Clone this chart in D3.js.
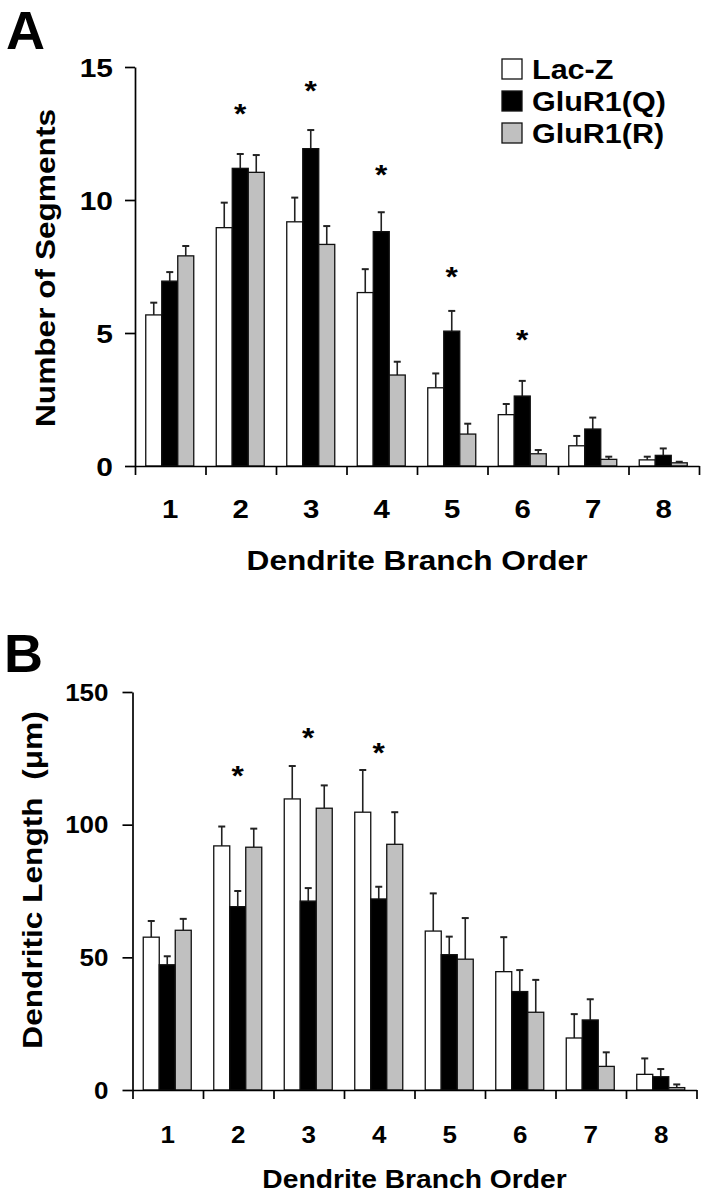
<!DOCTYPE html>
<html>
<head>
<meta charset="utf-8">
<script src="https://cdn.jsdelivr.net/npm/d3@7"></script>
<style>
    body { margin: 0; background: #fff; }
    svg { display: block; font-family: "Liberation Sans", Arial, sans-serif; font-weight: bold; }
    text { white-space: pre; }
</style>
</head>
<body>
<div id="figure"></div>
<script>
const branchOrders = ["1", "2", "3", "4", "5", "6", "7", "8"];
const groupNames = ["Lac-Z", "GluR1(Q)", "GluR1(R)"];
const groupFills = ["#ffffff", "#000000", "#c0c0c0"];

// A: number of segments
const segTicks = [0, 5, 10, 15];
const segLacZ = [5.68, 8.96, 9.18, 6.52, 2.94, 1.93, 0.76, 0.23];
const segLacZErr = [0.46, 0.94, 0.91, 0.88, 0.54, 0.40, 0.37, 0.12];
const segGluQ = [6.95, 11.19, 11.93, 8.81, 5.07, 2.63, 1.39, 0.40];
const segGluQErr = [0.34, 0.54, 0.70, 0.73, 0.76, 0.57, 0.43, 0.26];
const segGluR = [7.90, 11.04, 8.33, 3.42, 1.20, 0.46, 0.25, 0.12];
const segGluRErr = [0.37, 0.65, 0.69, 0.50, 0.39, 0.14, 0.10, 0.04];
const segStars = [null, 13.5, 14.36, 11.22, 7.37, 5.0, null, null];

// B: dendritic length
const lenTicks = [0, 50, 100, 150];
const lenLacZ = [57.6, 92.0, 109.7, 104.7, 59.9, 44.6, 19.6, 5.9];
const lenLacZErr = [6.1, 7.3, 12.4, 15.9, 14.2, 13.0, 9.0, 6.0];
const lenGluQ = [47.2, 69.1, 71.2, 72.0, 51.0, 37.1, 26.4, 5.0];
const lenGluQErr = [3.2, 5.9, 4.9, 4.6, 6.8, 8.1, 7.8, 2.9];
const lenGluR = [60.2, 91.5, 106.2, 92.6, 49.3, 29.3, 8.9, 0.9];
const lenGluRErr = [4.3, 7.0, 8.6, 12.1, 15.5, 12.2, 5.3, 1.2];
const lenStars = [null, 120.8, 135.3, 129.7, null, null, null, null];

// the chart font runs wider than Arial
const stretch = 1.13;

const svg = d3.select("#figure").append("svg")
    .attr("width", 706)
    .attr("height", 1199);

function wideText(parent, x, y, label, size, anchor, rotate) {
    const turn = rotate ? " rotate(-90)" : "";
    return parent.append("text")
        .attr("transform", `translate(${x},${y})${turn} scale(${stretch},1)`)
        .attr("text-anchor", anchor || "middle")
        .attr("font-size", size)
        .attr("fill", "#000")
        .text(label);
}

function drawPanel(p) {
    const g = svg.append("g");

    g.append("text")
        .attr("x", p.letterX)
        .attr("y", p.letterY)
        .attr("font-size", 54)
        .text(p.letter);

    const x = d3.scaleBand().domain(branchOrders).range([p.left, p.right]);
    const y = d3.scaleLinear().domain([0, p.yMax]).range([p.bottom, p.top]);
    const inner = d3.scaleBand().domain(groupNames).range([0, 48]);
    const shift = (x.bandwidth() - 48) / 2 - 0.5;
    const bw = inner.bandwidth();

    const rows = [];
    groupNames.forEach((name, i) => {
        branchOrders.forEach((order, j) => {
            rows.push({
                name: name,
                fill: groupFills[i],
                order: order,
                mean: p.means[i][j],
                err: p.errors[i][j]
            });
        });
    });

    const barX = d => x(d.order) + shift + inner(d.name);

    // error bars
    const errs = g.append("g")
        .attr("stroke", "#222")
        .attr("stroke-width", 1.6);

    errs.selectAll("line.stem")
        .data(rows)
        .join("line")
        .attr("class", "stem")
        .attr("x1", d => barX(d) + bw / 2)
        .attr("x2", d => barX(d) + bw / 2)
        .attr("y1", d => y(d.mean))
        .attr("y2", d => y(d.mean + d.err));

    errs.selectAll("line.cap")
        .data(rows)
        .join("line")
        .attr("class", "cap")
        .attr("x1", d => barX(d) + bw / 2 - 3.5)
        .attr("x2", d => barX(d) + bw / 2 + 3.5)
        .attr("y1", d => y(d.mean + d.err))
        .attr("y2", d => y(d.mean + d.err))
        .attr("stroke-width", 2);

    g.append("g")
        .selectAll("rect")
        .data(rows)
        .join("rect")
        .attr("x", barX)
        .attr("width", bw)
        .attr("y", d => y(d.mean))
        .attr("height", d => y(0) - y(d.mean))
        .attr("fill", d => d.fill)
        .attr("stroke", "#111")
        .attr("stroke-width", 1.3);

    // stars over the GluR1(Q) bars
    branchOrders.forEach((order, j) => {
        if (p.stars[j] === null) return;
        wideText(g, x(order) + shift + inner("GluR1(Q)") + bw / 2,
            y(p.stars[j]) + 16, "*", 28);
    });

    // y axis
    const yAxis = g.append("g")
        .attr("transform", `translate(${p.left},0)`)
        .call(d3.axisLeft(y).tickValues(p.yTicks).tickSize(10).tickSizeOuter(0))
        .attr("font-size", null)
        .attr("font-family", null);

    yAxis.selectAll("path, line")
        .attr("stroke", "#000")
        .attr("stroke-width", 1.7);

    yAxis.selectAll(".tick text")
        .attr("x", 0)
        .attr("dy", "0.36em")
        .attr("font-size", p.yTickSize)
        .attr("fill", "#000")
        .attr("transform", `translate(${-p.yTickGap},0) scale(${stretch},1)`);

    // x axis: marks at the bin edges, labels at the bin centres
    const edges = d3.scaleLinear().domain([0, branchOrders.length]).range([p.left, p.right]);

    const xEdges = g.append("g")
        .attr("transform", `translate(0,${p.bottom})`)
        .call(d3.axisBottom(edges)
            .tickValues(d3.range(branchOrders.length + 1))
            .tickSize(9)
            .tickSizeOuter(0)
            .tickFormat(""));

    xEdges.selectAll("path, line")
        .attr("stroke", "#000")
        .attr("stroke-width", 1.7);

    const xLabels = g.append("g")
        .attr("transform", `translate(0,${p.bottom})`)
        .call(d3.axisBottom(x).tickSize(0))
        .attr("font-size", null)
        .attr("font-family", null);

    xLabels.select(".domain").remove();

    xLabels.selectAll(".tick text")
        .attr("y", 0)
        .attr("dy", 0)
        .attr("font-size", p.xTickSize)
        .attr("fill", "#000")
        .attr("transform", `translate(0,${p.xTickDrop}) scale(${stretch},1)`);

    // titles
    wideText(g, (p.left + p.right) / 2, p.xTitleY, "Dendrite Branch Order", p.xTitleSize);
    wideText(g, p.yTitleX, p.yTitleY, p.yTitle, p.yTitleSize, "middle", true);

    return g;
}

const panelA = drawPanel({
    letter: "A", letterX: 6, letterY: 49,
    left: 135, right: 699, top: 67, bottom: 466,
    yMax: 15, yTicks: segTicks,
    means: [segLacZ, segGluQ, segGluR],
    errors: [segLacZErr, segGluQErr, segGluRErr],
    stars: segStars,
    yTickSize: 26.5, yTickGap: 22,
    xTickSize: 26, xTickDrop: 52,
    xTitleSize: 28, xTitleY: 570,
    yTitle: "Number of Segments", yTitleSize: 28, yTitleX: 55, yTitleY: 268
});

drawPanel({
    letter: "B", letterX: 4, letterY: 672,
    left: 132.5, right: 696.5, top: 692, bottom: 1090,
    yMax: 150, yTicks: lenTicks,
    means: [lenLacZ, lenGluQ, lenGluR],
    errors: [lenLacZErr, lenGluQErr, lenGluRErr],
    stars: lenStars,
    yTickSize: 23, yTickGap: 24,
    xTickSize: 23, xTickDrop: 53,
    xTitleSize: 25, xTitleY: 1188,
    yTitle: "Dendritic Length  (\u03bcm)", yTitleSize: 28, yTitleX: 42, yTitleY: 880
});

// legend (panel A only)
const legend = panelA.append("g");
groupNames.forEach((name, i) => {
    legend.append("rect")
        .attr("x", 502)
        .attr("y", 59 + i * 32)
        .attr("width", 20)
        .attr("height", 20)
        .attr("fill", groupFills[i])
        .attr("stroke", "#111")
        .attr("stroke-width", 1.3);
    wideText(legend, 532, 79 + i * 32, name, 27, "start");
});
</script>
</body>
</html>
